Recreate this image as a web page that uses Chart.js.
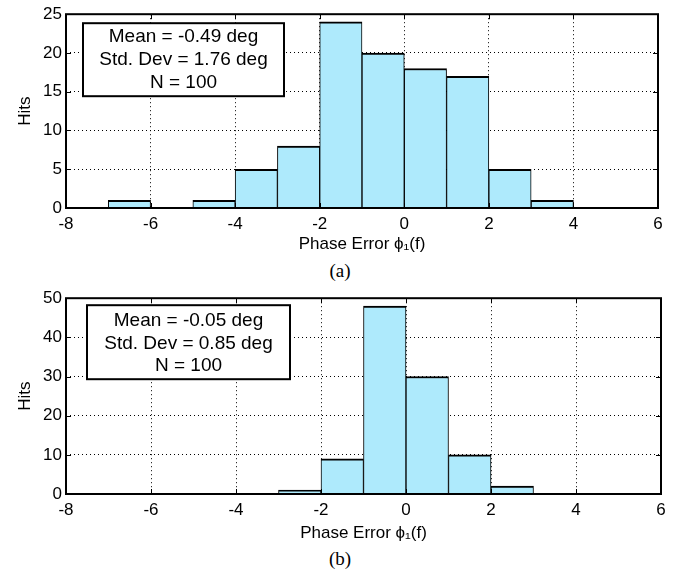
<!DOCTYPE html>
<html>
<head>
  <meta charset="UTF-8">
  <title>Phase error histograms</title>
  <script src="https://cdn.jsdelivr.net/npm/chart.js"></script>
  <style>
    body {
      margin: 0;
      background: #fff;
      width: 685px;
      height: 571px;
      position: relative;
      overflow: hidden;
    }
    canvas { position: absolute; left: 0; }
    #chartA { top: 0; }
    #chartB { top: 284px; }
    .cap {
      position: absolute;
      left: 0;
      width: 680px;
      text-align: center;
      font-family: 'Liberation Serif', 'Times New Roman', serif;
      font-size: 19px;
      line-height: 20px;
    }
  </style>
</head>
<body>

  <canvas id="chartA" width="685" height="258"></canvas>
  <div class="cap" style="top:261px">(a)</div>
  <canvas id="chartB" width="685" height="262"></canvas>
  <div class="cap" style="top:549px">(b)</div>

  <script>
    const binCenters = [-6.5, -5.5, -4.5, -3.5, -2.5, -1.5, -0.5, 0.5, 1.5, 2.5, 3.5, 4.5];
    const hitsA = [1, 0, 1, 5, 8, 24, 20, 18, 17, 5, 1, 0];
    const hitsB = [0, 0, 0, 0, 1, 9, 48, 30, 10, 2, 0, 0];
    const xTicks = [-8, -6, -4, -2, 0, 2, 4, 6];
    const statsA = ['Mean = -0.49 deg', 'Std. Dev = 1.76 deg', 'N = 100'];
    const statsB = ['Mean = -0.05 deg', 'Std. Dev = 0.85 deg', 'N = 100'];
    const xTitle = 'Phase Error \u03d5\u2081(f)';
    const yTitle = 'Hits';

    const FONT = "'Liberation Sans', Arial, sans-serif";

    // box around the plot, MATLAB style inner ticks, and the stats text box
    const framePlugin = {
      id: 'frame',
      afterDatasetsDraw(chart, args, opts) {
        const { ctx, chartArea: a, scales: { x, y } } = chart;
        ctx.save();
        ctx.strokeStyle = '#000';
        ctx.lineWidth = 1;
        ctx.beginPath();
        x.ticks.forEach(t => {
          const px = Math.round(x.getPixelForValue(t.value)) + 0.5;
          ctx.moveTo(px, a.bottom); ctx.lineTo(px, a.bottom - 5);
          ctx.moveTo(px, a.top); ctx.lineTo(px, a.top + 5);
        });
        y.ticks.forEach(t => {
          const py = Math.round(y.getPixelForValue(t.value)) + 0.5;
          ctx.moveTo(a.left, py); ctx.lineTo(a.left + 5, py);
          ctx.moveTo(a.right, py); ctx.lineTo(a.right - 5, py);
        });
        ctx.stroke();
        ctx.lineWidth = 2;
        ctx.strokeRect(a.left, a.top, a.right - a.left, a.bottom - a.top);

        const b = opts.box;
        const bx = a.left + b.dx, by = a.top + b.dy;
        ctx.fillStyle = '#fff';
        ctx.fillRect(bx, by, b.w, b.h);
        ctx.strokeRect(bx, by, b.w, b.h);
        ctx.fillStyle = '#000';
        ctx.font = '19px ' + FONT;
        ctx.textAlign = 'center';
        ctx.textBaseline = 'middle';
        opts.lines.forEach((s, i) => ctx.fillText(s, bx + b.w / 2, by + b.first + i * b.gap));
        ctx.restore();
      }
    };

    function makeChart(id, hits, stats, yMax, yStep, lay) {
      return new Chart(document.getElementById(id), {
        type: 'bar',
        data: {
          datasets: [{
            data: binCenters.map((c, i) => ({ x: c, y: hits[i] })),
            backgroundColor: '#aeeafc',
            borderColor: '#000',
            borderWidth: { top: 2, left: 1, right: 1, bottom: 0 },
            borderSkipped: 'start',
            barPercentage: 1,
            categoryPercentage: 1
          }]
        },
        options: {
          responsive: false,
          animation: false,
          layout: { padding: { top: lay.top, right: lay.right, left: 0, bottom: 0 } },
          plugins: {
            legend: { display: false },
            tooltip: { enabled: false },
            frame: { box: lay.box, lines: stats }
          },
          scales: {
            x: {
              type: 'linear',
              min: -8,
              max: 6,
              offset: false,
              afterBuildTicks: s => { s.ticks = xTicks.map(v => ({ value: v })); },
              afterFit: s => { s.height = lay.xh; },
              grid: { color: '#000', lineWidth: 1, drawTicks: false, offset: false },
              border: { display: false, dash: [1, 3] },
              ticks: { color: '#000', padding: 6, font: { family: FONT, size: 17 }, maxRotation: 0 },
              title: { display: true, text: xTitle, color: '#000', padding: { top: 0, bottom: lay.tb }, font: { family: FONT, size: 17 } }
            },
            y: {
              min: 0,
              max: yMax,
              afterFit: s => { s.width = 66; },
              grid: { color: '#000', lineWidth: 1, drawTicks: false },
              border: { display: false, dash: [1, 3] },
              ticks: { stepSize: yStep, color: '#000', padding: 4, font: { family: FONT, size: 17 } },
              title: { display: true, text: yTitle, color: '#000', padding: { top: 15, bottom: 0 }, font: { family: FONT, size: 17 } }
            }
          }
        },
        plugins: [framePlugin]
      });
    }

    makeChart('chartA', hitsA, statsA, 25, 5, {
      top: 14, right: 27, xh: 50, tb: 3,
      box: { dx: 17, dy: 9, w: 201, h: 73, first: 14, gap: 23 }
    });
    makeChart('chartB', hitsB, statsB, 50, 10, {
      top: 13, right: 24, xh: 52, tb: 2,
      box: { dx: 21, dy: 7, w: 203, h: 74, first: 16, gap: 22.5 }
    });
  </script>

</body>
</html>
